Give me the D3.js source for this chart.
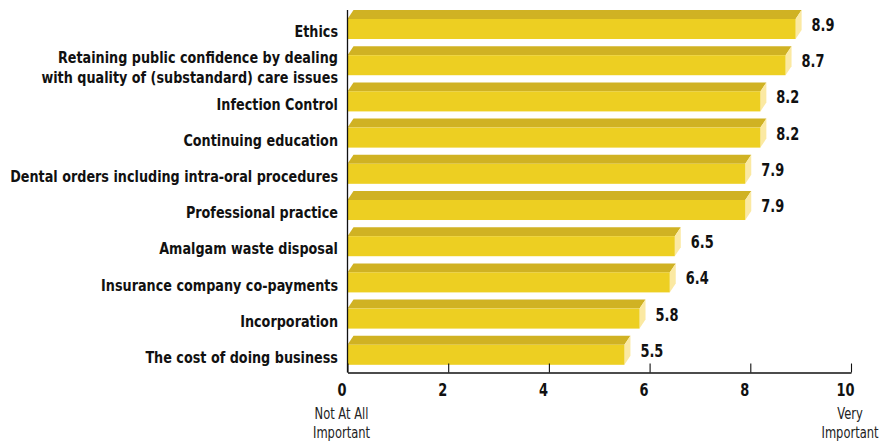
<!DOCTYPE html>
<html>
<head>
<meta charset="utf-8">
<script src="https://cdn.jsdelivr.net/npm/d3@7"></script>
<style>
  html, body { margin: 0; padding: 0; background: #fff; }
  svg { display: block; }
  .cat { font-family: "Liberation Sans Narrow", "DejaVu Sans Condensed", sans-serif; font-weight: bold; font-size: 15px; fill: #111; }
  .val { font-family: "Liberation Sans Narrow", "DejaVu Sans Condensed", sans-serif; font-weight: bold; font-size: 18px; fill: #111; }
  .tick-label { font-family: "Liberation Sans Narrow", "DejaVu Sans Condensed", sans-serif; font-weight: bold; font-size: 18px; fill: #111; }
  .end-label { font-family: "Liberation Sans Narrow", "DejaVu Sans Condensed", sans-serif; font-size: 16px; fill: #222; }
</style>
</head>
<body>
<svg id="chart" width="893" height="442"></svg>
<script>
// Importance ratings of topics (0 = not at all important, 10 = very important)
const categories = [
  ["Ethics"],
  ["Retaining public confidence by dealing", "with quality of (substandard) care issues"],
  ["Infection Control"],
  ["Continuing education"],
  ["Dental orders including intra-oral procedures"],
  ["Professional practice"],
  ["Amalgam waste disposal"],
  ["Insurance company co-payments"],
  ["Incorporation"],
  ["The cost of doing business"]
];
const values = [8.9, 8.7, 8.2, 8.2, 7.9, 7.9, 6.5, 6.4, 5.8, 5.5];
const tickValues = [0, 2, 4, 6, 8, 10];
const endLabels = [
  { at: 0, lines: ["Not At All", "Important"] },
  { at: 10, lines: ["Very", "Important"] }
];

const svg = d3.select("#chart");

const x0 = 347.5, x1 = 851;
const x = d3.scaleLinear().domain([0, 10]).range([x0, x1]);

const keys = categories.map((c, i) => i);
const y = d3.scaleBand().domain(keys).range([19, 364.8]).paddingInner(0.447).paddingOuter(0);
const bh = y.bandwidth();

// 3D extrusion offsets
const dx = 6, dy = 9;
const axisY = 372.5;
// horizontal squeeze for the narrow numeric / footnote type
const narrow = 0.8;

const cFront = "#EDCF22", cTop = "#D0B223", cSide = "#FBE9A2";

const bars = svg.append("g").selectAll("g.bar")
  .data(values.map((v, i) => ({ v, i })))
  .join("g").attr("class", "bar");

// top face
bars.append("path")
  .attr("fill", cTop)
  .attr("d", d => {
    const yt = y(d.i), xl = x(0), xr = x(d.v);
    return `M${xl},${yt} L${xl + dx},${yt - dy} L${xr + dx},${yt - dy} L${xr},${yt} Z`;
  });
// side face
bars.append("path")
  .attr("fill", cSide)
  .attr("d", d => {
    const yt = y(d.i), xr = x(d.v);
    return `M${xr},${yt} L${xr + dx},${yt - dy} L${xr + dx},${yt + bh - dy} L${xr},${yt + bh} Z`;
  });
// front face
bars.append("rect")
  .attr("fill", cFront)
  .attr("x", x(0))
  .attr("y", d => y(d.i))
  .attr("width", d => x(d.v) - x(0))
  .attr("height", bh);

// value labels
bars.append("text")
  .attr("class", "val")
  .attr("transform", d => `translate(${x(d.v) + dx + 10},${y(d.i) + bh / 2 - 4}) scale(${narrow},1)`)
  .attr("dominant-baseline", "central")
  .text(d => d.v.toFixed(1));

// category labels (condensed horizontally so the longest line spans the label column)
const labelRight = 338, labelMaxWidth = 328;
const lineH = 20;
const catG = svg.append("g");
catG.selectAll("text")
  .data(categories.map((lines, i) => ({ lines, i })))
  .join("text")
  .attr("class", "cat")
  .attr("text-anchor", "end")
  .each(function(d) {
    const t = d3.select(this);
    const cy = y(d.i) + bh / 2 + 2.5;
    const n = d.lines.length;
    d.lines.forEach((ln, k) => {
      t.append("tspan")
        .attr("x", 0)
        .attr("y", cy + (k - (n - 1) / 2) * lineH)
        .attr("dominant-baseline", "central")
        .text(ln);
    });
  });
let widest = 0;
catG.selectAll("tspan").each(function() { widest = Math.max(widest, this.getComputedTextLength()); });
const sx = Math.min(1, labelMaxWidth / widest);
catG.attr("transform", `translate(${labelRight},0) scale(${sx},1)`);

// vertical axis line
svg.append("line")
  .attr("x1", x0).attr("x2", x0)
  .attr("y1", 10).attr("y2", axisY)
  .attr("stroke", "#111").attr("stroke-width", 1.3);

// bottom axis with ticks pointing up
const xAxis = d3.axisBottom(x).tickValues(tickValues).tickSize(-9).tickSizeOuter(0).tickFormat(d3.format("d"));
const gx = svg.append("g").attr("transform", `translate(0,${axisY})`).call(xAxis);
gx.select(".domain").attr("stroke", "#111").attr("stroke-width", 1.3);
gx.selectAll(".tick line").attr("stroke", "#111").attr("stroke-width", 1.1);
gx.selectAll(".tick text")
  .attr("class", "tick-label")
  .attr("font-family", null).attr("font-size", null)
  .attr("fill", null)
  .attr("x", 0)
  .attr("y", 0)
  .attr("dy", "0.35em")
  .attr("transform", `translate(-6,17) scale(${narrow},1)`);

// end-of-scale descriptions
svg.append("g").selectAll("text")
  .data(endLabels)
  .join("text")
  .attr("class", "end-label")
  .attr("text-anchor", "middle")
  .attr("transform", d => `translate(${x(d.at) - (d.at === 0 ? 6 : 1)},0) scale(${narrow},1)`)
  .each(function(d) {
    const t = d3.select(this);
    d.lines.forEach((ln, k) => {
      t.append("tspan")
        .attr("x", 0)
        .attr("y", 413 + k * 19)
        .attr("dominant-baseline", "central")
        .text(ln);
    });
  });
</script>
</body>
</html>
